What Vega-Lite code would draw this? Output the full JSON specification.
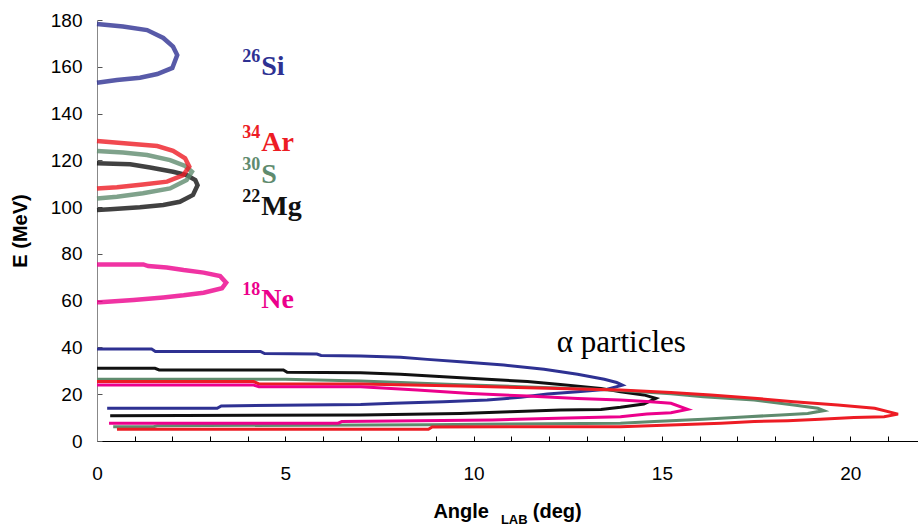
{
  "$schema": "https://vega.github.io/schema/vega-lite/v6.json",
  "width": 821,
  "height": 421,
  "autosize": {"type": "none"},
  "padding": {"left": 97, "top": 20, "right": 0, "bottom": 85},
  "background": "white",
  "config": {"view": {"stroke": null}, "font": "Liberation Sans"},
  "datasets": {
    "curves": [
      {"s":"Si-i","nuc":"Si","k":"ion","i":1,"a":0,"E":178.3},{"s":"Si-i","nuc":"Si","k":"ion","i":2,"a":0.69,"E":177.2},{"s":"Si-i","nuc":"Si","k":"ion","i":3,"a":1.33,"E":175.7},{"s":"Si-i","nuc":"Si","k":"ion","i":4,"a":1.76,"E":172.3},{"s":"Si-i","nuc":"Si","k":"ion","i":5,"a":2.02,"E":168.6},{"s":"Si-i","nuc":"Si","k":"ion","i":6,"a":2.13,"E":165},{"s":"Si-i","nuc":"Si","k":"ion","i":7,"a":2.0,"E":159.5},{"s":"Si-i","nuc":"Si","k":"ion","i":8,"a":1.6,"E":156.9},{"s":"Si-i","nuc":"Si","k":"ion","i":9,"a":1.14,"E":155.3},{"s":"Si-i","nuc":"Si","k":"ion","i":10,"a":0.53,"E":154.3},{"s":"Si-i","nuc":"Si","k":"ion","i":11,"a":0,"E":153.2},
      {"s":"Mg-i","nuc":"Mg","k":"ion","i":1,"a":0,"E":118.7},{"s":"Mg-i","nuc":"Mg","k":"ion","i":2,"a":0.88,"E":118.3},{"s":"Mg-i","nuc":"Mg","k":"ion","i":3,"a":1.41,"E":116.9},{"s":"Mg-i","nuc":"Mg","k":"ion","i":4,"a":2.02,"E":115.1},{"s":"Mg-i","nuc":"Mg","k":"ion","i":5,"a":2.38,"E":113.7},{"s":"Mg-i","nuc":"Mg","k":"ion","i":6,"a":2.61,"E":111.6},{"s":"Mg-i","nuc":"Mg","k":"ion","i":7,"a":2.67,"E":109.4},{"s":"Mg-i","nuc":"Mg","k":"ion","i":8,"a":2.55,"E":105.2},{"s":"Mg-i","nuc":"Mg","k":"ion","i":9,"a":2.2,"E":102.3},{"s":"Mg-i","nuc":"Mg","k":"ion","i":10,"a":1.76,"E":100.9},{"s":"Mg-i","nuc":"Mg","k":"ion","i":11,"a":1.14,"E":99.9},{"s":"Mg-i","nuc":"Mg","k":"ion","i":12,"a":0.35,"E":99.1},{"s":"Mg-i","nuc":"Mg","k":"ion","i":13,"a":0,"E":98.8},
      {"s":"S-i","nuc":"S","k":"ion","i":1,"a":0,"E":124.0},{"s":"S-i","nuc":"S","k":"ion","i":2,"a":0.69,"E":123.3},{"s":"S-i","nuc":"S","k":"ion","i":3,"a":1.33,"E":122.3},{"s":"S-i","nuc":"S","k":"ion","i":4,"a":1.94,"E":120.1},{"s":"S-i","nuc":"S","k":"ion","i":5,"a":2.34,"E":117.6},{"s":"S-i","nuc":"S","k":"ion","i":6,"a":2.52,"E":115.1},{"s":"S-i","nuc":"S","k":"ion","i":7,"a":2.38,"E":111.6},{"s":"S-i","nuc":"S","k":"ion","i":8,"a":1.94,"E":108.0},{"s":"S-i","nuc":"S","k":"ion","i":9,"a":1.22,"E":105.9},{"s":"S-i","nuc":"S","k":"ion","i":10,"a":0.53,"E":104.4},{"s":"S-i","nuc":"S","k":"ion","i":11,"a":0,"E":103.7},
      {"s":"Ar-i","nuc":"Ar","k":"ion","i":1,"a":0,"E":128.3},{"s":"Ar-i","nuc":"Ar","k":"ion","i":2,"a":0.96,"E":127.0},{"s":"Ar-i","nuc":"Ar","k":"ion","i":3,"a":1.6,"E":126.1},{"s":"Ar-i","nuc":"Ar","k":"ion","i":4,"a":2.02,"E":124.1},{"s":"Ar-i","nuc":"Ar","k":"ion","i":5,"a":2.34,"E":120.9},{"s":"Ar-i","nuc":"Ar","k":"ion","i":6,"a":2.45,"E":117.3},{"s":"Ar-i","nuc":"Ar","k":"ion","i":7,"a":2.29,"E":113.7},{"s":"Ar-i","nuc":"Ar","k":"ion","i":8,"a":1.86,"E":110.9},{"s":"Ar-i","nuc":"Ar","k":"ion","i":9,"a":1.22,"E":109.7},{"s":"Ar-i","nuc":"Ar","k":"ion","i":10,"a":0.53,"E":108.5},{"s":"Ar-i","nuc":"Ar","k":"ion","i":11,"a":0,"E":108.0},
      {"s":"Ne-i","nuc":"Ne","k":"ion","i":1,"a":0,"E":75.5},{"s":"Ne-i","nuc":"Ne","k":"ion","i":2,"a":1.23,"E":75.5},{"s":"Ne-i","nuc":"Ne","k":"ion","i":3,"a":1.36,"E":74.8},{"s":"Ne-i","nuc":"Ne","k":"ion","i":4,"a":1.85,"E":74.2},{"s":"Ne-i","nuc":"Ne","k":"ion","i":5,"a":2.3,"E":73.1},{"s":"Ne-i","nuc":"Ne","k":"ion","i":6,"a":2.83,"E":72.0},{"s":"Ne-i","nuc":"Ne","k":"ion","i":7,"a":3.27,"E":70.5},{"s":"Ne-i","nuc":"Ne","k":"ion","i":8,"a":3.43,"E":67.7},{"s":"Ne-i","nuc":"Ne","k":"ion","i":9,"a":3.32,"E":65.3},{"s":"Ne-i","nuc":"Ne","k":"ion","i":10,"a":2.83,"E":63.4},{"s":"Ne-i","nuc":"Ne","k":"ion","i":11,"a":2.3,"E":62.3},{"s":"Ne-i","nuc":"Ne","k":"ion","i":12,"a":1.76,"E":61.4},{"s":"Ne-i","nuc":"Ne","k":"ion","i":13,"a":0.97,"E":60.3},{"s":"Ne-i","nuc":"Ne","k":"ion","i":14,"a":0.08,"E":59.3},{"s":"Ne-i","nuc":"Ne","k":"ion","i":15,"a":0,"E":59.3},

      {"s":"Si-a","nuc":"Si","k":"alpha","i":1,"a":0,"E":39.3},{"s":"Si-a","nuc":"Si","k":"alpha","i":2,"a":1.45,"E":39.3},{"s":"Si-a","nuc":"Si","k":"alpha","i":3,"a":1.55,"E":38.3},{"s":"Si-a","nuc":"Si","k":"alpha","i":4,"a":4.34,"E":38.3},{"s":"Si-a","nuc":"Si","k":"alpha","i":5,"a":4.45,"E":37.4},{"s":"Si-a","nuc":"Si","k":"alpha","i":6,"a":5.84,"E":37.2},{"s":"Si-a","nuc":"Si","k":"alpha","i":7,"a":5.95,"E":36.6},{"s":"Si-a","nuc":"Si","k":"alpha","i":8,"a":7.0,"E":36.3},{"s":"Si-a","nuc":"Si","k":"alpha","i":9,"a":8.06,"E":35.8},{"s":"Si-a","nuc":"Si","k":"alpha","i":10,"a":8.77,"E":34.9},{"s":"Si-a","nuc":"Si","k":"alpha","i":11,"a":9.65,"E":33.9},{"s":"Si-a","nuc":"Si","k":"alpha","i":12,"a":10.8,"E":32.5},{"s":"Si-a","nuc":"Si","k":"alpha","i":13,"a":11.87,"E":30.7},{"s":"Si-a","nuc":"Si","k":"alpha","i":14,"a":12.76,"E":28.5},{"s":"Si-a","nuc":"Si","k":"alpha","i":15,"a":13.47,"E":26.4},{"s":"Si-a","nuc":"Si","k":"alpha","i":16,"a":13.8,"E":25.0},{"s":"Si-a","nuc":"Si","k":"alpha","i":17,"a":13.95,"E":23.9},{"s":"Si-a","nuc":"Si","k":"alpha","i":18,"a":13.55,"E":22.1},{"s":"Si-a","nuc":"Si","k":"alpha","i":19,"a":12.76,"E":21.1},{"s":"Si-a","nuc":"Si","k":"alpha","i":20,"a":11.96,"E":20.1},{"s":"Si-a","nuc":"Si","k":"alpha","i":21,"a":11.25,"E":18.7},{"s":"Si-a","nuc":"Si","k":"alpha","i":22,"a":10.36,"E":17.5},{"s":"Si-a","nuc":"Si","k":"alpha","i":23,"a":9.2,"E":16.8},{"s":"Si-a","nuc":"Si","k":"alpha","i":24,"a":7.88,"E":16.1},{"s":"Si-a","nuc":"Si","k":"alpha","i":25,"a":7.0,"E":15.6},{"s":"Si-a","nuc":"Si","k":"alpha","i":26,"a":3.3,"E":15.0},{"s":"Si-a","nuc":"Si","k":"alpha","i":27,"a":3.19,"E":14.0},{"s":"Si-a","nuc":"Si","k":"alpha","i":28,"a":0.27,"E":14.0},
      {"s":"Mg-a","nuc":"Mg","k":"alpha","i":1,"a":0,"E":31.1},{"s":"Mg-a","nuc":"Mg","k":"alpha","i":2,"a":1.54,"E":31.1},{"s":"Mg-a","nuc":"Mg","k":"alpha","i":3,"a":1.65,"E":30.4},{"s":"Mg-a","nuc":"Mg","k":"alpha","i":4,"a":4.95,"E":30.4},{"s":"Mg-a","nuc":"Mg","k":"alpha","i":5,"a":5.05,"E":29.4},{"s":"Mg-a","nuc":"Mg","k":"alpha","i":6,"a":7.0,"E":29.2},{"s":"Mg-a","nuc":"Mg","k":"alpha","i":7,"a":8.06,"E":28.5},{"s":"Mg-a","nuc":"Mg","k":"alpha","i":8,"a":9.2,"E":27.5},{"s":"Mg-a","nuc":"Mg","k":"alpha","i":9,"a":10.36,"E":26.4},{"s":"Mg-a","nuc":"Mg","k":"alpha","i":10,"a":11.43,"E":25.4},{"s":"Mg-a","nuc":"Mg","k":"alpha","i":11,"a":12.3,"E":24.2},{"s":"Mg-a","nuc":"Mg","k":"alpha","i":12,"a":13.38,"E":22.5},{"s":"Mg-a","nuc":"Mg","k":"alpha","i":13,"a":13.9,"E":21.1},{"s":"Mg-a","nuc":"Mg","k":"alpha","i":14,"a":14.52,"E":19.7},{"s":"Mg-a","nuc":"Mg","k":"alpha","i":15,"a":14.84,"E":18.2},{"s":"Mg-a","nuc":"Mg","k":"alpha","i":16,"a":14.52,"E":15.8},{"s":"Mg-a","nuc":"Mg","k":"alpha","i":17,"a":13.9,"E":14.4},{"s":"Mg-a","nuc":"Mg","k":"alpha","i":18,"a":13.38,"E":13.5},{"s":"Mg-a","nuc":"Mg","k":"alpha","i":19,"a":12.3,"E":13.3},{"s":"Mg-a","nuc":"Mg","k":"alpha","i":20,"a":10.98,"E":12.5},{"s":"Mg-a","nuc":"Mg","k":"alpha","i":21,"a":9.65,"E":11.8},{"s":"Mg-a","nuc":"Mg","k":"alpha","i":22,"a":7.0,"E":11.1},{"s":"Mg-a","nuc":"Mg","k":"alpha","i":23,"a":0.35,"E":10.8},
      {"s":"S-a","nuc":"S","k":"alpha","i":1,"a":0,"E":26.4},{"s":"S-a","nuc":"S","k":"alpha","i":2,"a":5.0,"E":26.4},{"s":"S-a","nuc":"S","k":"alpha","i":3,"a":7.0,"E":25.6},{"s":"S-a","nuc":"S","k":"alpha","i":4,"a":9.48,"E":24.2},{"s":"S-a","nuc":"S","k":"alpha","i":5,"a":11.25,"E":23.2},{"s":"S-a","nuc":"S","k":"alpha","i":6,"a":12.67,"E":22.5},{"s":"S-a","nuc":"S","k":"alpha","i":7,"a":13.9,"E":21.6},{"s":"S-a","nuc":"S","k":"alpha","i":8,"a":15.24,"E":20.2},{"s":"S-a","nuc":"S","k":"alpha","i":9,"a":16.1,"E":18.9},{"s":"S-a","nuc":"S","k":"alpha","i":10,"a":17.45,"E":17.5},{"s":"S-a","nuc":"S","k":"alpha","i":11,"a":18.5,"E":15.4},{"s":"S-a","nuc":"S","k":"alpha","i":12,"a":19.14,"E":14.0},{"s":"S-a","nuc":"S","k":"alpha","i":13,"a":19.3,"E":13.0},{"s":"S-a","nuc":"S","k":"alpha","i":14,"a":18.87,"E":11.8},{"s":"S-a","nuc":"S","k":"alpha","i":15,"a":18.16,"E":11.1},{"s":"S-a","nuc":"S","k":"alpha","i":16,"a":17.28,"E":10.4},{"s":"S-a","nuc":"S","k":"alpha","i":17,"a":16.1,"E":9.3},{"s":"S-a","nuc":"S","k":"alpha","i":18,"a":14.8,"E":8.3},{"s":"S-a","nuc":"S","k":"alpha","i":19,"a":13.9,"E":7.6},{"s":"S-a","nuc":"S","k":"alpha","i":20,"a":8.8,"E":7.0},{"s":"S-a","nuc":"S","k":"alpha","i":21,"a":1.6,"E":6.5},{"s":"S-a","nuc":"S","k":"alpha","i":22,"a":1.5,"E":6.1},{"s":"S-a","nuc":"S","k":"alpha","i":23,"a":0.43,"E":6.1},
      {"s":"Ar-a","nuc":"Ar","k":"alpha","i":1,"a":0,"E":25.4},{"s":"Ar-a","nuc":"Ar","k":"alpha","i":2,"a":4.16,"E":25.4},{"s":"Ar-a","nuc":"Ar","k":"alpha","i":3,"a":4.3,"E":24.4},{"s":"Ar-a","nuc":"Ar","k":"alpha","i":4,"a":7.0,"E":24.4},{"s":"Ar-a","nuc":"Ar","k":"alpha","i":5,"a":9.65,"E":23.5},{"s":"Ar-a","nuc":"Ar","k":"alpha","i":6,"a":11.43,"E":22.8},{"s":"Ar-a","nuc":"Ar","k":"alpha","i":7,"a":13.9,"E":21.8},{"s":"Ar-a","nuc":"Ar","k":"alpha","i":8,"a":15.24,"E":20.7},{"s":"Ar-a","nuc":"Ar","k":"alpha","i":9,"a":16.3,"E":19.7},{"s":"Ar-a","nuc":"Ar","k":"alpha","i":10,"a":17.45,"E":18.3},{"s":"Ar-a","nuc":"Ar","k":"alpha","i":11,"a":18.5,"E":16.8},{"s":"Ar-a","nuc":"Ar","k":"alpha","i":12,"a":19.67,"E":15.4},{"s":"Ar-a","nuc":"Ar","k":"alpha","i":13,"a":20.65,"E":14.0},{"s":"Ar-a","nuc":"Ar","k":"alpha","i":14,"a":21.27,"E":11.5},{"s":"Ar-a","nuc":"Ar","k":"alpha","i":15,"a":20.9,"E":10.4},{"s":"Ar-a","nuc":"Ar","k":"alpha","i":16,"a":20.1,"E":10.0},{"s":"Ar-a","nuc":"Ar","k":"alpha","i":17,"a":19.2,"E":9.3},{"s":"Ar-a","nuc":"Ar","k":"alpha","i":18,"a":18.34,"E":8.7},{"s":"Ar-a","nuc":"Ar","k":"alpha","i":19,"a":17.45,"E":8.3},{"s":"Ar-a","nuc":"Ar","k":"alpha","i":20,"a":16.57,"E":7.6},{"s":"Ar-a","nuc":"Ar","k":"alpha","i":21,"a":15.24,"E":6.8},{"s":"Ar-a","nuc":"Ar","k":"alpha","i":22,"a":13.9,"E":6.1},{"s":"Ar-a","nuc":"Ar","k":"alpha","i":23,"a":8.9,"E":6.0},{"s":"Ar-a","nuc":"Ar","k":"alpha","i":24,"a":8.8,"E":5.0},{"s":"Ar-a","nuc":"Ar","k":"alpha","i":25,"a":0.53,"E":5.0},
      {"s":"Ne-a","nuc":"Ne","k":"alpha","i":1,"a":0,"E":23.9},{"s":"Ne-a","nuc":"Ne","k":"alpha","i":2,"a":4.16,"E":23.9},{"s":"Ne-a","nuc":"Ne","k":"alpha","i":3,"a":4.3,"E":23.2},{"s":"Ne-a","nuc":"Ne","k":"alpha","i":4,"a":7.0,"E":23.2},{"s":"Ne-a","nuc":"Ne","k":"alpha","i":5,"a":8.5,"E":21.8},{"s":"Ne-a","nuc":"Ne","k":"alpha","i":6,"a":9.92,"E":20.3},{"s":"Ne-a","nuc":"Ne","k":"alpha","i":7,"a":11.43,"E":19.2},{"s":"Ne-a","nuc":"Ne","k":"alpha","i":8,"a":12.76,"E":18.2},{"s":"Ne-a","nuc":"Ne","k":"alpha","i":9,"a":13.9,"E":17.5},{"s":"Ne-a","nuc":"Ne","k":"alpha","i":10,"a":14.7,"E":16.8},{"s":"Ne-a","nuc":"Ne","k":"alpha","i":11,"a":15.24,"E":16.1},{"s":"Ne-a","nuc":"Ne","k":"alpha","i":12,"a":15.68,"E":13.5},{"s":"Ne-a","nuc":"Ne","k":"alpha","i":13,"a":15.24,"E":12.1},{"s":"Ne-a","nuc":"Ne","k":"alpha","i":14,"a":14.6,"E":11.5},{"s":"Ne-a","nuc":"Ne","k":"alpha","i":15,"a":13.9,"E":10.4},{"s":"Ne-a","nuc":"Ne","k":"alpha","i":16,"a":12.5,"E":9.8},{"s":"Ne-a","nuc":"Ne","k":"alpha","i":17,"a":10.5,"E":9.0},{"s":"Ne-a","nuc":"Ne","k":"alpha","i":18,"a":6.5,"E":8.3},{"s":"Ne-a","nuc":"Ne","k":"alpha","i":19,"a":6.4,"E":7.6},{"s":"Ne-a","nuc":"Ne","k":"alpha","i":20,"a":0.32,"E":7.6}
    ],
    "labels": [
      {"nuc":"Si","A":"26","sym":"Si","a":4.36,"E":156.5},
      {"nuc":"Ar","A":"34","sym":"Ar","a":4.36,"E":124.0},
      {"nuc":"S","A":"30","sym":"S","a":4.36,"E":110.3},
      {"nuc":"Mg","A":"22","sym":"Mg","a":4.36,"E":96.6},
      {"nuc":"Ne","A":"18","sym":"Ne","a":4.36,"E":56.9}
    ],
    "notes": [
      {"t":"α particles","a":12.21,"E":38.1}
    ],
    "xtitle": [
      {"t":"Angle","a":9.67,"E":-32.9},
      {"t":"(deg)","a":12.22,"E":-32.9}
    ],
    "sub": [
      {"t":"LAB","a":11.08,"E":-35.5}
    ]
  },
  "encoding": {
    "x": {
      "field": "a", "type": "quantitative",
      "scale": {"domain": [0, 21.8], "nice": false, "zero": false},
      "axis": {
        "values": [0,1,2,3,4,5,6,7,8,9,10,11,12,13,14,15,16,17,18,19,20,21],
        "labelExpr": "datum.value % 5 == 0 ? datum.label : ''",
        "grid": false, "tickSize": -5, "tickColor": "#000000", "domainColor": "#000000",
        "labelFontSize": 19, "labelPadding": 28, "labelColor": "#000000", "labelFlush": false, "labelOverlap": false,
        "title": null
      }
    },
    "y": {
      "field": "E", "type": "quantitative",
      "scale": {"domain": [0, 180], "nice": false, "zero": false},
      "axis": {
        "values": [0,20,40,60,80,100,120,140,160,180],
        "grid": false, "tickSize": -5, "tickColor": "#555555", "domainColor": "#888888",
        "labelFontSize": 19, "labelPadding": 20, "labelColor": "#000000", "labelFlush": false, "labelOverlap": false,
        "title": "E (MeV)", "titleFontSize": 20, "titleFontWeight": "bold", "titleColor": "#000000", "titlePadding": 20
      }
    }
  },
  "layer": [
    {
      "data": {"name": "curves"},
      "transform": [{"filter": "datum.k == 'ion'"}],
      "mark": {"type": "line", "strokeWidth": 4.5, "opacity": 0.8, "clip": false},
      "encoding": {
        "color": {"field": "nuc", "type": "nominal", "legend": null,
          "scale": {"domain": ["Si","Mg","S","Ar","Ne"], "range": ["#2e3192","#111111","#5f8b6e","#ed1c24","#ec008c"]}},
        "detail": {"field": "s"},
        "order": {"field": "i", "type": "quantitative"}
      }
    },
    {
      "data": {"name": "curves"},
      "transform": [{"filter": "datum.k == 'alpha'"}],
      "mark": {"type": "line", "strokeWidth": 3, "clip": false},
      "encoding": {
        "color": {"field": "nuc", "type": "nominal", "legend": null},
        "detail": {"field": "s"},
        "order": {"field": "i", "type": "quantitative"}
      }
    },
    {
      "data": {"name": "labels"},
      "mark": {"type": "text", "font": "Liberation Serif", "fontWeight": "bold", "fontSize": 18, "align": "right", "baseline": "alphabetic", "dx": -1, "dy": -13},
      "encoding": {
        "text": {"field": "A"},
        "color": {"field": "nuc", "type": "nominal", "legend": null}
      }
    },
    {
      "data": {"name": "labels"},
      "mark": {"type": "text", "font": "Liberation Serif", "fontWeight": "bold", "fontSize": 28, "align": "left", "baseline": "alphabetic"},
      "encoding": {
        "text": {"field": "sym"},
        "color": {"field": "nuc", "type": "nominal", "legend": null}
      }
    },
    {
      "data": {"name": "notes"},
      "mark": {"type": "text", "font": "Liberation Serif", "fontSize": 31, "align": "left", "baseline": "alphabetic", "color": "#000000"},
      "encoding": {"text": {"field": "t"}}
    },
    {
      "data": {"name": "xtitle"},
      "mark": {"type": "text", "font": "Liberation Sans", "fontWeight": "bold", "fontSize": 20, "align": "center", "baseline": "alphabetic", "color": "#000000", "clip": false},
      "encoding": {"text": {"field": "t"}}
    },
    {
      "data": {"name": "sub"},
      "mark": {"type": "text", "font": "Liberation Sans", "fontWeight": "bold", "fontSize": 13, "align": "center", "baseline": "alphabetic", "color": "#000000", "clip": false},
      "encoding": {"text": {"field": "t"}}
    }
  ]
}
